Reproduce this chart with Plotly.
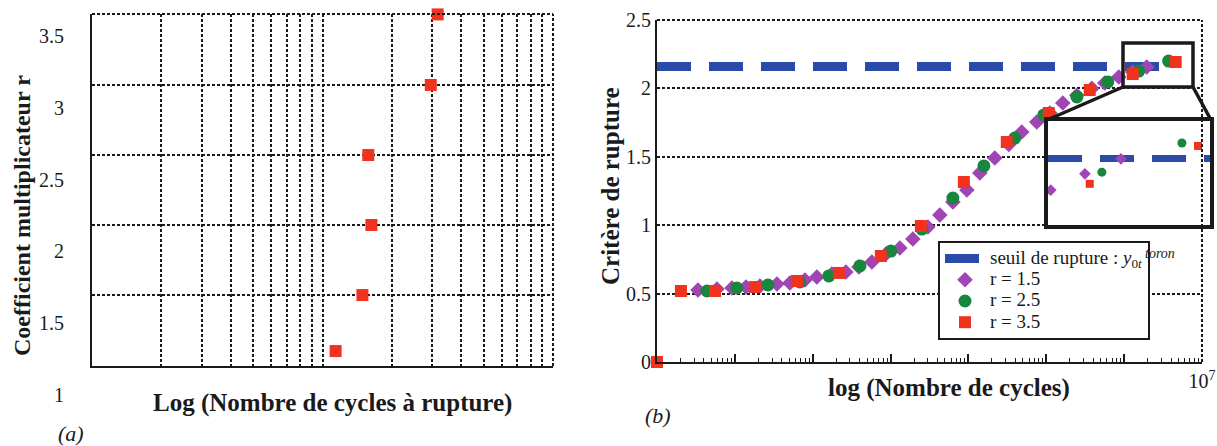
import plotly.graph_objects as go

W, H = 1217, 446
SERIF = "Liberation Serif"
INK = "#1a1a1a"
PURPLE = "#a046b4"
GREEN = "#16873c"
RED = "#f0321e"
BLUE = "#2a4baa"

# ---------------- Panel (a) data ----------------
a_cycles = [1.14e6, 1.49e6, 1.63e6, 1.58e6, 2.95e6, 3.16e6]
a_r = [1.306, 1.696, 2.184, 2.671, 3.159, 3.65]
a_ytick_vals = [1.0, 1.5, 2.0, 2.5, 3.0, 3.5]
a_ytick_text = ["1", "1.5", "2", "2.5", "3", "3.5"]
a_ygrid = [1.696, 2.184, 2.671, 3.159]
a_yrange = [1.202, 3.653]
a_xrange_log = [5, 7]

# ---------------- Panel (b) data ----------------
# r = 1.5 (diamonds)
b15_cycles = [3.36, 5.89, 9.18, 13.9, 21.0, 34.7, 50.9, 79.4, 113, 176, 267, 392, 575, 871,
              1315, 1932, 3013, 4295, 6310, 9550, 14000, 21800, 33000, 48400, 75500,
              111000, 163000, 247000, 384000, 564000, 853000, 1.29e6, 1.95e6]
b15_crit = [0.526, 0.534, 0.541, 0.548, 0.556, 0.570, 0.577, 0.599, 0.621, 0.643, 0.658,
            0.694, 0.731, 0.789, 0.833, 0.899, 0.987, 1.075, 1.170, 1.257, 1.382, 1.491,
            1.590, 1.681, 1.754, 1.820, 1.893, 1.950, 2.000, 2.040, 2.083, 2.120, 2.156]
# r = 2.5 (circles)
b25_cycles = [4.39, 10.6, 26.6, 68.5, 161, 404, 1009, 2520, 6310, 15800, 39400, 92900,
              247000, 617000, 1.54e6, 3.73e6]
b25_crit = [0.519, 0.541, 0.563, 0.585, 0.629, 0.702, 0.811, 0.972, 1.199, 1.433, 1.637,
            1.806, 1.937, 2.047, 2.127, 2.200]
# r = 3.5 (squares)
b35_cycles = [1, 2.03, 5.56, 18.1, 62.7, 217, 750, 2450, 8730, 31100, 107700, 361000,
              1.288e6, 4.59e6]
b35_crit = [0.0, 0.519, 0.519, 0.548, 0.592, 0.651, 0.775, 0.994, 1.316, 1.608, 1.820,
            1.988, 2.105, 2.193]
threshold = 2.16
threshold_span = [1, 2.9e6]
b_ytick_vals = [0, 0.5, 1, 1.5, 2, 2.5]
b_ytick_text = ["0", "0.5", "1", "1.5", "2", "2.5"]
b_decades = [1, 10, 100, 1e3, 1e4, 1e5, 1e6, 1e7]
b_decade_text = ["", "", "", "", "", "", "", "10<sup>7</sup>"]

# ---------------- Inset (zoom) data ----------------
in15_cycles = [1.04e6, 1.69e6, 2.82e6]
in15_crit = [2.084, 2.123, 2.159]
in25_cycles = [2.15e6, 6.71e6]
in25_crit = [2.127, 2.197]
in35_cycles = [1.81e6, 8.43e6]
in35_crit = [2.099, 2.190]
inset_span = [1e6, 1e7]


def px(x):
    return x / W


def py(y):
    return 1 - y / H


fig = go.Figure()

# Panel (a)
fig.add_trace(go.Scatter(x=a_cycles, y=a_r, mode="markers", xaxis="x", yaxis="y",
                         marker=dict(symbol="square", size=12, color=RED),
                         cliponaxis=False, showlegend=False))

# Panel (b)
SP = '<span style="font-size:19px">'
fig.add_trace(go.Scatter(x=threshold_span, y=[threshold, threshold], mode="lines",
                         xaxis="x2", yaxis="y2",
                         line=dict(color=BLUE, width=9, dash="34px,18px"),
                         name=SP + 'seuil de rupture : <i>y</i><sub>0<i>t</i></sub></span>'))
fig.add_trace(go.Scatter(x=b15_cycles, y=b15_crit, mode="markers", xaxis="x2", yaxis="y2",
                         marker=dict(symbol="diamond", size=12, color=PURPLE),
                         cliponaxis=False, name=SP + 'r = 1.5</span>'))
fig.add_trace(go.Scatter(x=b25_cycles, y=b25_crit, mode="markers", xaxis="x2", yaxis="y2",
                         marker=dict(symbol="circle", size=13, color=GREEN),
                         cliponaxis=False, name=SP + 'r = 2.5</span>'))
fig.add_trace(go.Scatter(x=b35_cycles, y=b35_crit, mode="markers", xaxis="x2", yaxis="y2",
                         marker=dict(symbol="square", size=12, color=RED),
                         cliponaxis=False, name=SP + 'r = 3.5</span>'))

# Inset
fig.add_trace(go.Scatter(x=inset_span, y=[threshold, threshold], mode="lines",
                         xaxis="x3", yaxis="y3", showlegend=False,
                         line=dict(color=BLUE, width=7, dash="34px,18px")))
fig.add_trace(go.Scatter(x=in15_cycles, y=in15_crit, mode="markers", xaxis="x3", yaxis="y3",
                         marker=dict(symbol="diamond", size=9, color=PURPLE), showlegend=False))
fig.add_trace(go.Scatter(x=in25_cycles, y=in25_crit, mode="markers", xaxis="x3", yaxis="y3",
                         marker=dict(symbol="circle", size=9, color=GREEN), showlegend=False))
fig.add_trace(go.Scatter(x=in35_cycles, y=in35_crit, mode="markers", xaxis="x3", yaxis="y3",
                         marker=dict(symbol="square", size=8, color=RED), showlegend=False))

grid = dict(showgrid=True, gridcolor=INK, gridwidth=2, griddash="3px,2px")
DOT = dict(color=INK, width=2, dash="3px,2px")

a_xgrid = [m * 10 ** d for d in (5, 6) for m in range(1, 10)]
b_minor = [m * 10 ** d for d in range(7) for m in range(2, 10)]

fig.update_layout(
    width=W, height=H, margin=dict(l=0, r=0, t=0, b=0, pad=0, autoexpand=False),
    paper_bgcolor="white", plot_bgcolor="white",
    font=dict(family=SERIF, color=INK, size=20),
    xaxis=dict(domain=[px(92), px(553)], type="log", range=a_xrange_log, anchor="y",
               tickmode="array", tickvals=a_xgrid, showticklabels=False, ticks="",
               showline=True, linecolor=INK, linewidth=2, zeroline=False,
               automargin=False, **grid),
    yaxis=dict(domain=[py(366), py(14)], range=a_yrange, anchor="x",
               tickmode="array", tickvals=a_ygrid, showticklabels=False, ticks="",
               showline=True, linecolor=INK, linewidth=2, zeroline=False,
               automargin=False, **grid),
    xaxis2=dict(domain=[px(657), px(1202)], type="log", range=[0, 7], anchor="y2",
                tickmode="array", tickvals=b_decades, ticktext=b_decade_text,
                ticks="inside", ticklen=8, tickwidth=1.5, tickcolor=INK,
                minor=dict(tickmode="array", tickvals=b_minor, ticks="inside", ticklen=4,
                           tickwidth=1.2, tickcolor=INK, showgrid=False),
                showgrid=False, showline=True, linecolor=INK, linewidth=2, zeroline=False,
                automargin=False, tickfont=dict(size=20, family=SERIF, color=INK)),
    yaxis2=dict(domain=[py(362), py(20)], range=[0, 2.5], anchor="x2",
                tickmode="array", tickvals=b_ytick_vals, ticktext=b_ytick_text, ticks="",
                showline=True, linecolor=INK, linewidth=2, zeroline=False,
                automargin=False, tickfont=dict(size=20, family=SERIF, color=INK), **grid),
    xaxis3=dict(domain=[px(1048), px(1210)], type="log", range=[6, 7], anchor="y3",
                showgrid=False, showticklabels=False, ticks="", zeroline=False,
                automargin=False,
                showline=True, mirror=True, linecolor=INK, linewidth=4),
    yaxis3=dict(domain=[py(225), py(121)], range=[2.0, 2.25], anchor="x3",
                showgrid=False, showticklabels=False, ticks="", zeroline=False,
                automargin=False,
                showline=True, mirror=True, linecolor=INK, linewidth=4),
    showlegend=True,
    legend=dict(x=px(938), y=py(241), xanchor="left", yanchor="top",
                bgcolor="white", bordercolor=INK, borderwidth=2,
                font=dict(family=SERIF, size=14, color=INK),
                itemwidth=40, tracegroupgap=0),
)

shapes = [
    # dotted top / right borders of panel (a)
    dict(type="line", xref="x domain", yref="y domain", x0=0, x1=1, y0=1, y1=1, line=DOT),
    dict(type="line", xref="x domain", yref="y domain", x0=1, x1=1, y0=0, y1=1, line=DOT),
    # dotted top / right borders of panel (b)
    dict(type="line", xref="x2 domain", yref="y2 domain", x0=0, x1=1, y0=1, y1=1, line=DOT),
    dict(type="line", xref="x2 domain", yref="y2 domain", x0=1, x1=1, y0=0, y1=1, line=DOT),
    # zoom box and connectors
    dict(type="rect", xref="paper", yref="paper", x0=px(1123), x1=px(1193), y0=py(87), y1=py(43),
         line=dict(color=INK, width=3.5)),
    dict(type="line", xref="paper", yref="paper", x0=px(1123), y0=py(87), x1=px(1047), y1=py(120),
         line=dict(color=INK, width=3.5)),
    dict(type="line", xref="paper", yref="paper", x0=px(1193), y0=py(87), x1=px(1211), y1=py(120),
         line=dict(color=INK, width=3.5)),
]
fig.update_layout(shapes=shapes)

# tick labels of panel (a) (offset from the grid as in the original figure)
d0, d1 = py(366), py(14)
annotations = []
for v, t in zip(a_ytick_vals, a_ytick_text):
    yy = d0 + (v - a_yrange[0]) / (a_yrange[1] - a_yrange[0]) * (d1 - d0)
    annotations.append(dict(text=t, x=px(66), y=yy, xref="paper", yref="paper",
                            xanchor="right", yanchor="middle", showarrow=False,
                            font=dict(size=20, family=SERIF, color=INK)))

title_font = dict(size=25, family=SERIF, color=INK)
C = dict(xref="paper", yref="paper", showarrow=False, xanchor="center", yanchor="middle")
annotations += [
    dict(text="<b>Coefficient multiplicateur r</b>", x=px(22), y=py(216), textangle=-90,
         font=dict(size=24, family=SERIF, color=INK), **C),
    dict(text="<b>Log (Nombre de cycles à rupture)</b>", x=px(332), y=py(403),
         font=title_font, **C),
    dict(text="<i>(a)</i>", x=px(71), y=py(433), font=dict(size=22, family=SERIF, color=INK), **C),
    dict(text="<b>Critère de rupture</b>", x=px(610), y=py(186), textangle=-90,
         font=title_font, **C),
    dict(text="<b>log (Nombre de cycles)</b>", x=px(949), y=py(388),
         font=title_font, **C),
    dict(text="<i>(b)</i>", x=px(658), y=py(415), font=dict(size=22, family=SERIF, color=INK), **C),
    dict(text="<i>toron</i>", x=px(1143), y=py(253), xref="paper", yref="paper",
         xanchor="left", yanchor="middle", showarrow=False,
         font=dict(size=14, family=SERIF, color=INK)),
]
fig.update_layout(annotations=annotations)

fig.write_html("out.html", config={"displayModeBar": False},
               post_script="document.body.style.margin='0';document.body.style.overflow='hidden';")
